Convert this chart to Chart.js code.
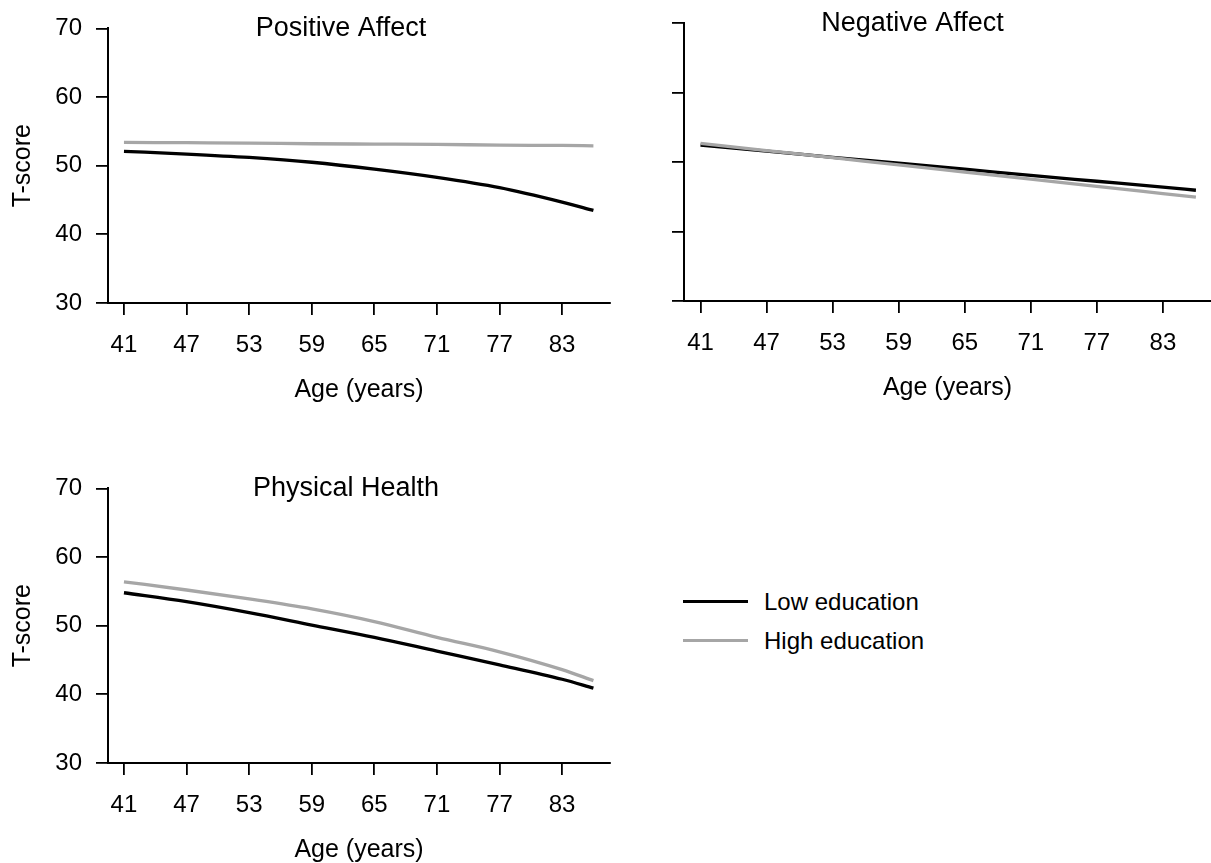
<!DOCTYPE html>
<html>
<head>
<meta charset="utf-8">
<script src="https://cdn.jsdelivr.net/npm/chart.js@4.4.0/dist/chart.umd.min.js"></script>
<style>
  html, body { margin: 0; padding: 0; background: #fff; overflow: hidden; }
  body { width: 1211px; height: 863px; position: relative; font-family: 'Liberation Sans', Arial, sans-serif; }
  canvas { position: absolute; }
  #pa { left: 0; top: 0; }
  #na { left: 600px; top: 0; }
  #ph { left: 0; top: 460px; }
  .legend { position: absolute; left: 683px; top: 582px; }
  .legend-item { display: flex; align-items: center; height: 39px; font-size: 24px; color: #000; }
  .swatch { width: 65px; height: 3px; margin-right: 16px; }
</style>
</head>
<body>
<canvas id="pa" width="615" height="410"></canvas>
<canvas id="na" width="611" height="410"></canvas>
<canvas id="ph" width="615" height="403"></canvas>
<div class="legend" id="legend"></div>
<script>
const ages = [41, 47, 53, 59, 65, 71, 77, 83, 86];
const ageTicks = [41, 47, 53, 59, 65, 71, 77, 83];
const seriesNames = ['Low education', 'High education'];
const seriesColors = ['#000000', '#a6a6a6'];

// predicted T-scores by age
const positiveLow = [52.1, 51.7, 51.2, 50.5, 49.5, 48.3, 46.8, 44.7, 43.5];
const positiveHigh = [53.4, 53.35, 53.3, 53.2, 53.15, 53.1, 53.0, 52.95, 52.9];
const negativeLow = [52.45, 51.6, 50.7, 49.85, 48.98, 48.1, 47.25, 46.4, 45.95];
const negativeHigh = [52.7, 51.67, 50.64, 49.6, 48.57, 47.54, 46.5, 45.48, 44.97];
const healthLow = [54.8, 53.5, 51.9, 50.1, 48.3, 46.3, 44.3, 42.2, 40.9];
const healthHigh = [56.4, 55.2, 53.9, 52.45, 50.6, 48.3, 46.2, 43.6, 42.0];

Chart.defaults.font.family = "'Liberation Sans', Arial, sans-serif";
Chart.defaults.color = '#000';

function toPoints(values) {
  return ages.map((age, i) => ({ x: age, y: values[i] }));
}

// panel heading, vertically centred on the top of the plot area
function titlePlugin(text, x) {
  return {
    id: 'panelTitle',
    afterDraw(chart) {
      const ctx = chart.ctx;
      ctx.save();
      ctx.font = "27px 'Liberation Sans', Arial, sans-serif";
      ctx.fillStyle = '#000';
      ctx.textAlign = 'center';
      ctx.textBaseline = 'middle';
      ctx.fillText(text, x, chart.chartArea.top);
      ctx.restore();
    },
  };
}

function makePanel(id, { title, titleX, low, high, xMin, xMax, yWidth, showYLabels, padding }) {
  const axisGrid = {
    display: true,
    drawOnChartArea: false,
    drawTicks: true,
    tickLength: 12,
    color: '#000',
    lineWidth: 1.8,
  };
  const border = { display: true, color: '#000', width: 2 };

  return new Chart(document.getElementById(id), {
    type: 'line',
    data: {
      datasets: [low, high].map((values, i) => ({
        label: seriesNames[i],
        data: toPoints(values),
        borderColor: seriesColors[i],
        backgroundColor: seriesColors[i],
        borderWidth: 3.3,
        pointRadius: 0,
        cubicInterpolationMode: 'monotone',
        fill: false,
        order: 1 - i,
      })),
    },
    options: {
      responsive: false,
      animation: false,
      events: [],
      layout: { padding },
      plugins: {
        legend: { display: false },
        tooltip: { enabled: false },
      },
      scales: {
        x: {
          type: 'linear',
          min: xMin,
          max: xMax,
          grid: axisGrid,
          border,
          afterBuildTicks(scale) {
            scale.ticks = ageTicks.map((v) => ({ value: v }));
          },
          afterFit(scale) {
            scale.height = 100;
          },
          ticks: {
            font: { size: 24 },
            padding: 16,
            maxRotation: 0,
            autoSkip: false,
          },
          title: {
            display: true,
            text: 'Age (years)',
            font: { size: 25, lineHeight: 1 },
            padding: { top: 0, bottom: 0 },
          },
        },
        y: {
          min: 30,
          max: 70,
          grid: axisGrid,
          border,
          afterFit(scale) {
            scale.width = yWidth;
          },
          ticks: {
            display: showYLabels,
            stepSize: 10,
            font: { size: 24 },
            padding: 14,
          },
          title: {
            display: showYLabels,
            text: 'T-score',
            font: { size: 25, lineHeight: 1 },
            padding: { top: 10.5, bottom: 0 },
          },
        },
      },
    },
    plugins: [titlePlugin(title, titleX)],
  });
}

makePanel('pa', {
  title: 'Positive Affect', titleX: 341,
  low: positiveLow, high: positiveHigh,
  xMin: 39.47, xMax: 87.59, yWidth: 108, showYLabels: true,
  padding: { top: 24.5, right: 5, bottom: 7, left: 0 },
});

makePanel('na', {
  title: 'Negative Affect', titleX: 312.5,
  low: negativeLow, high: negativeHigh,
  xMin: 39.5, xMax: 87.37, yWidth: 84, showYLabels: false,
  padding: { top: 23.3, right: 0, bottom: 9, left: 0 },
});

makePanel('ph', {
  title: 'Physical Health', titleX: 346,
  low: healthLow, high: healthHigh,
  xMin: 39.47, xMax: 87.59, yWidth: 108, showYLabels: true,
  padding: { top: 24.7, right: 5, bottom: 0, left: 0 },
});

// shared legend for the three panels
const legend = document.getElementById('legend');
seriesNames.forEach((name, i) => {
  const item = document.createElement('div');
  item.className = 'legend-item';
  const swatch = document.createElement('span');
  swatch.className = 'swatch';
  swatch.style.background = seriesColors[i];
  const label = document.createElement('span');
  label.textContent = name;
  item.append(swatch, label);
  legend.append(item);
});
</script>
</body>
</html>
